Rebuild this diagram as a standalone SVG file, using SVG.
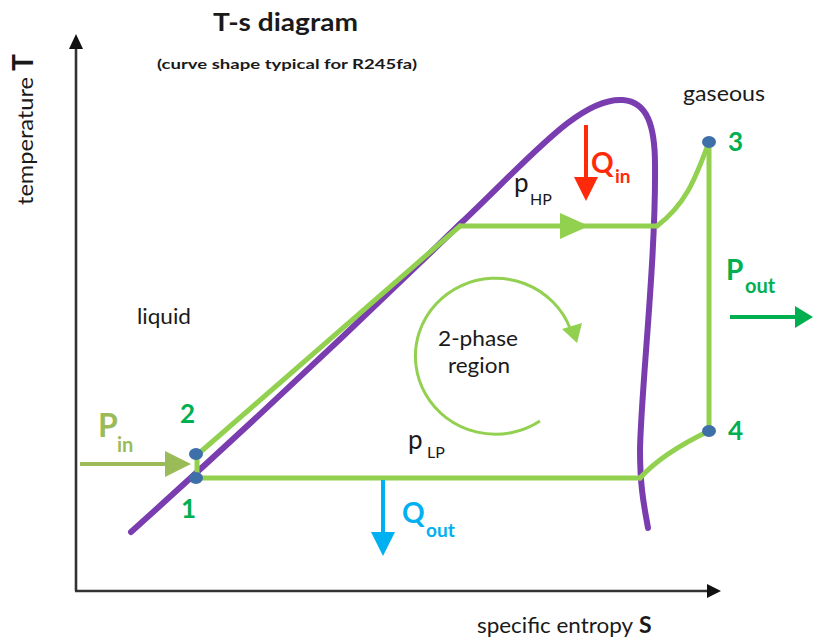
<svg xmlns="http://www.w3.org/2000/svg" width="813" height="638" viewBox="0 0 813 638">
  <style>
    .t { font-family: Lato, "Liberation Sans", sans-serif; fill: #1a1a1a; }
    .b { font-weight: bold; }
    .num { font-family: Lato, "Liberation Sans", sans-serif; font-weight: bold; fill: #00B050; font-size: 26px; }
    .cyc { fill: none; stroke: #92D050; stroke-width: 5; stroke-linecap: round; stroke-linejoin: round; }
    .dot { fill: #3F6FA8; }
    .axis { stroke: #333; stroke-width: 2.6; fill: none; }
  </style>
  <rect width="813" height="638" fill="#fff"/>

  <g id="title">
    <text class="t b" x="213" y="31" font-size="24" textLength="145" lengthAdjust="spacingAndGlyphs">T-s diagram</text>
    <text class="t b" x="157" y="69" font-size="13.5" textLength="260" lengthAdjust="spacingAndGlyphs">(curve shape typical for R245fa)</text>
  </g>

  <g id="axes">
    <line class="axis" x1="76" y1="591" x2="76" y2="46"/>
    <polygon points="69,49 76,34 83,49" fill="#111"/>
    <line class="axis" x1="75" y1="591" x2="709" y2="591"/>
    <polygon points="707,584 721,591 707,598" fill="#111"/>
    <g transform="translate(33,205) rotate(-90)">
      <text class="t" x="0" y="0" font-size="22" textLength="128" lengthAdjust="spacingAndGlyphs">temperature</text>
      <text class="t b" x="134" y="0" font-size="28">T</text>
    </g>
    <text class="t" x="477" y="633" font-size="21" textLength="156" lengthAdjust="spacingAndGlyphs">specific entropy</text>
    <text class="t b" x="639" y="633" font-size="23">S</text>
  </g>

  <g id="saturation-curve">
    <path d="M131,532 Q300,380 460,224 C530,158 580,97 623,100 C647,102 655,125 655,165 C656,260 641,390 640,450 C640,490 645,510 648,528" fill="none" stroke="#7A3DB0" stroke-width="6" stroke-linecap="round"/>
  </g>

  <g id="connectors">
    <path class="cyc" d="M197,478 L640,478"/>
    <path class="cyc" d="M640,478 C660,456 690,440 709,431"/>
    <path class="cyc" d="M709,431 L709,142"/>
    <path class="cyc" d="M709,142 C695,180 685,205 657,226"/>
    <path class="cyc" d="M657,226 L460,226"/>
    <polygon points="560,213 589,226 560,239" fill="#92D050"/>
    <path class="cyc" d="M460,226 L197,455"/>
    <path class="cyc" d="M197,455 L197,478"/>
    <path d="M540,421 A80,78 0 1 1 570,328" fill="none" stroke="#92D050" stroke-width="3"/>
    <polygon points="562,329 582,323 577,343" fill="#92D050"/>
  </g>

  <g id="point-1"><ellipse class="dot" cx="196" cy="478" rx="7" ry="6"/><text class="num" x="181" y="518">1</text></g>
  <g id="point-2"><ellipse class="dot" cx="196" cy="454" rx="7" ry="6"/><text class="num" x="180" y="423">2</text></g>
  <g id="point-3"><ellipse class="dot" cx="709" cy="142" rx="7" ry="6"/><text class="num" x="728" y="151">3</text></g>
  <g id="point-4"><ellipse class="dot" cx="709" cy="431" rx="7" ry="6"/><text class="num" x="728" y="440">4</text></g>

  <g id="labels">
    <text class="t" x="137" y="324" font-size="22" textLength="54" lengthAdjust="spacingAndGlyphs">liquid</text>
    <text class="t" x="683" y="101" font-size="22" textLength="82" lengthAdjust="spacingAndGlyphs">gaseous</text>
    <text class="t" x="438" y="346" font-size="22" textLength="80" lengthAdjust="spacingAndGlyphs">2-phase</text>
    <text class="t" x="448" y="373" font-size="22" textLength="62" lengthAdjust="spacingAndGlyphs">region</text>
    <text class="t" x="514" y="192" font-size="26">p</text>
    <text class="t" x="530" y="205" font-size="16">HP</text>
    <text class="t" x="408" y="449" font-size="26">p</text>
    <text class="t" x="427" y="458" font-size="16">LP</text>
  </g>

  <g id="P-in">
    <line x1="80" y1="464" x2="168" y2="464" stroke="#9BBB59" stroke-width="4"/>
    <polygon points="165,451 191,464 165,477" fill="#9BBB59"/>
    <text class="b" x="98" y="437" font-size="32" font-family="Lato, 'Liberation Sans', sans-serif" fill="#9BBB59">P</text>
    <text class="b" x="117" y="452" font-size="20" font-family="Lato, 'Liberation Sans', sans-serif" fill="#9BBB59">in</text>
  </g>

  <g id="P-out">
    <line x1="730" y1="317" x2="797" y2="317" stroke="#00B050" stroke-width="4"/>
    <polygon points="795,306 813,317 795,328" fill="#00B050"/>
    <text class="b" x="726" y="280" font-size="28" font-family="Lato, 'Liberation Sans', sans-serif" fill="#00B050">P</text>
    <text class="b" x="745" y="293" font-size="20" font-family="Lato, 'Liberation Sans', sans-serif" fill="#00B050">out</text>
  </g>

  <g id="Q-in">
    <line x1="586" y1="125" x2="586" y2="180" stroke="#FF2A0A" stroke-width="4"/>
    <polygon points="574,177 598,177 586,201" fill="#FF2A0A"/>
    <text class="b" x="591" y="173" font-size="28" font-family="Lato, 'Liberation Sans', sans-serif" fill="#FF2A0A">Q</text>
    <text class="b" x="615" y="183" font-size="19" font-family="Lato, 'Liberation Sans', sans-serif" fill="#FF2A0A">in</text>
  </g>

  <g id="Q-out">
    <line x1="383" y1="480" x2="383" y2="535" stroke="#00B0F0" stroke-width="4"/>
    <polygon points="371,532 395,532 383,556" fill="#00B0F0"/>
    <text class="b" x="402" y="523" font-size="28" font-family="Lato, 'Liberation Sans', sans-serif" fill="#00B0F0">Q</text>
    <text class="b" x="426" y="537" font-size="19" font-family="Lato, 'Liberation Sans', sans-serif" fill="#00B0F0">out</text>
  </g>
</svg>
